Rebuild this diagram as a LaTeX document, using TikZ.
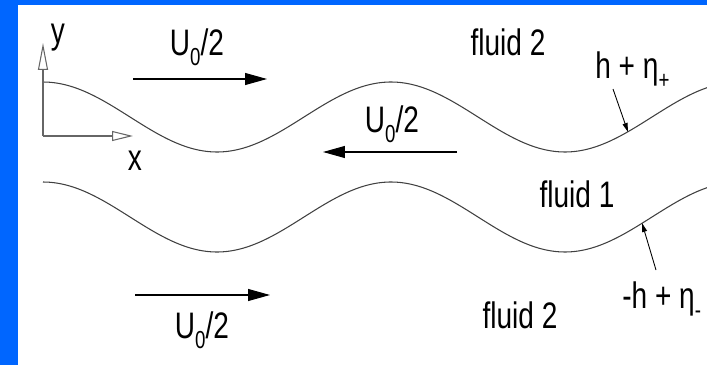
\documentclass[tikz,border=0pt]{standalone}
\usepackage{fontspec}
\setmainfont{Liberation Sans}[FakeStretch=0.76]
\usepackage{tikz}
\usetikzlibrary{arrows.meta}
\definecolor{frameblue}{RGB}{0,102,255}
\newcommand{\lowsub}[1]{\raisebox{-0.28em}{\fontsize{14}{14}\selectfont #1}}

\begin{document}
\begin{tikzpicture}[x=0.02cm, y=-0.02cm,
    lbl/.style={inner sep=0pt, anchor=base, font=\fontsize{21}{25}\selectfont},
    wave/.style={line width=0.6pt, black!75},
    flow/.style={line width=0.6pt, -{Triangle[length=4.4mm, width=2.4mm]}},
    axisarrow/.style={line width=0.6pt, black!60, -{Triangle[open, length=#1, width=2mm]}},
    note/.style={line width=0.5pt, -{Triangle[length=1.8mm, width=1mm]}}
]
\useasboundingbox (0,0) rectangle (707,365);
\fill[white] (0,0) rectangle (707,365);
\fill[frameblue] (0,0) rectangle (18,365);
\fill[frameblue] (0,0) rectangle (707,5);

% interfaces
\draw[wave] plot[domain=43:707, samples=120, smooth] (\x, {117-35*cos((\x-43)/348*360)});
\draw[wave] plot[domain=43:707, samples=120, smooth] (\x, {217-35*cos((\x-43)/348*360)});

% axes
\coordinate (o) at (43,136);
\coordinate (ytip) at (43,43);
\coordinate (xtip) at (133,136);
\draw[axisarrow=5.4mm] (o) -- (ytip);
\draw[axisarrow=4.2mm] (o) -- (xtip);
\node[lbl] (ylab) at (58,43) {y};
\node[lbl] (xlab) at (135,170) {x};

% flow
\coordinate (f1s) at (133,79);
\coordinate (f1e) at (267,79);
\coordinate (f2s) at (457,152);
\coordinate (f2e) at (323,152);
\coordinate (f3s) at (135,295);
\coordinate (f3e) at (270,295);
\draw[flow] (f1s) -- (f1e);
\draw[flow] (f2s) -- (f2e);
\draw[flow] (f3s) -- (f3e);
\node[lbl] (u1) at (197,55) {U\lowsub{0}/2};
\node[lbl] (u2) at (392,132) {U\lowsub{0}/2};
\node[lbl] (u3) at (202,338) {U\lowsub{0}/2};

\node[lbl] (top) at (508,55) {fluid 2};
\node[lbl] (mid) at (577,207) {fluid 1};
\node[lbl] (bot) at (520,328) {fluid 2};

% interface labels
\node[lbl, anchor=base west] (hplus) at (595,78) {h + η\lowsub{+}};
\node[lbl, anchor=base west] (hminus) at (622,308) {-h + η\lowsub{-}};
\coordinate (hs) at (613,89);
\coordinate (ht) at (628,132);
\coordinate (ms) at (656,270);
\coordinate (mt) at (642,223);
\draw[note] (hs) -- (ht);
\draw[note] (ms) -- (mt);
\end{tikzpicture}
\end{document}
